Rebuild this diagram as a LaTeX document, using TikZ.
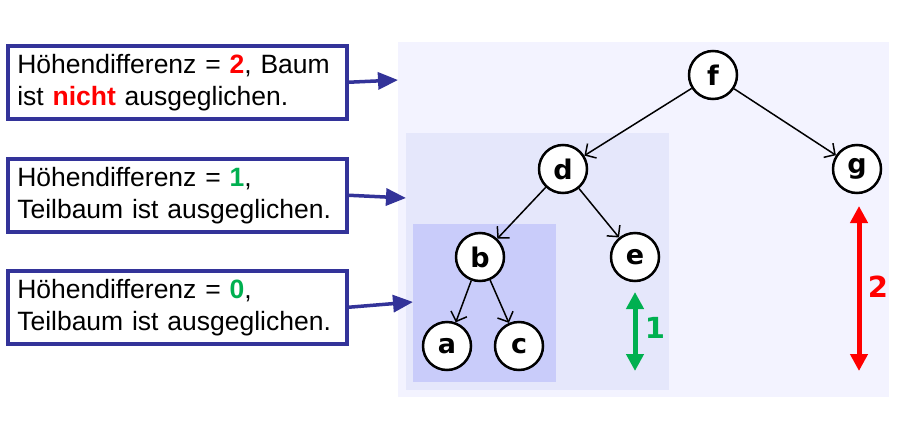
\documentclass[tikz,border=0pt]{standalone}
\usepackage{xcolor}
\usepackage{fontspec}
\setmainfont{Liberation Sans}
\newfontfamily\treefont{DejaVu Sans}
\usepackage{tikz}
\usetikzlibrary{arrows.meta}

\definecolor{boxblue}{RGB}{51,51,153}
\definecolor{hdred}{RGB}{255,0,0}
\definecolor{hdgreen}{RGB}{0,176,80}
\definecolor{panelA}{RGB}{243,243,255}
\definecolor{panelB}{RGB}{229,231,251}
\definecolor{panelC}{RGB}{201,204,250}

\tikzset{
  infobox/.style={draw=boxblue, line width=3.5pt, fill=white, anchor=north west,
    minimum width=339pt, minimum height=73pt, text width=320pt, inner xsep=9.5pt,
    align=left, font=\fontsize{26.5}{32}\selectfont},
  pointer/.style={boxblue, line width=3.5pt, -{Triangle[length=20pt,width=17pt]}},
  vertex/.style={circle, draw, line width=2.5pt, fill=white, minimum size=48pt,
    inner sep=0pt, font=\treefont\bfseries\fontsize{27}{27}\selectfont},
  edge/.style={line width=1.5pt, -{Straight Barb[length=8pt,width=17pt,line width=1.5pt]}},
  hdiff/.style={line width=5pt, {Triangle[length=17pt,width=17pt]}-{Triangle[length=17pt,width=17pt]}},
  hlabel/.style={font=\treefont\bfseries\fontsize{29}{29}\selectfont}
}

\begin{document}
\begin{tikzpicture}[x=1pt,y=-1pt]
  \useasboundingbox (0,0) rectangle (904,423);
  \fill[panelA] (398,42) rectangle (889,397);
  \fill[panelB] (406,133) rectangle (669,390);
  \fill[panelC] (413,224) rectangle (556,382);

  \node[infobox] (t1) at (6,44) {H\"ohendifferenz = \textcolor{hdred}{\textbf{2}}, Baum\\ist \textcolor{hdred}{\textbf{nicht}} ausgeglichen.};
  \node[infobox] (t2) at (6,157) {H\"ohendifferenz = \textcolor{hdgreen}{\textbf{1}},\\Teilbaum ist ausgeglichen.};
  \node[infobox] (t3) at (6,269) {H\"ohendifferenz = \textcolor{hdgreen}{\textbf{0}},\\Teilbaum ist ausgeglichen.};

  \coordinate (p1) at (398,80);
  \coordinate (p2) at (406,198);
  \coordinate (p3) at (413,302);
  \draw[pointer] (t1.east) -- (p1);
  \draw[pointer] (t2.east) -- (p2);
  \draw[pointer] (t3.east) -- (p3);

  \node[vertex] (f) at (713,75) {f};
  \node[vertex] (d) at (563,169) {d};
  \node[vertex] (g) at (857,169) {g};
  \node[vertex] (b) at (480,257) {b};
  \node[vertex] (e) at (635,257) {e};
  \node[vertex] (a) at (447,346) {a};
  \node[vertex] (c) at (519,346) {c};
  \draw[edge] (f) -- (d);
  \draw[edge] (f) -- (g);
  \draw[edge] (d) -- (b);
  \draw[edge] (d) -- (e);
  \draw[edge] (b) -- (a);
  \draw[edge] (b) -- (c);

  \coordinate (g1) at (635,292);
  \coordinate (g2) at (635,371);
  \coordinate (r1) at (859,206);
  \coordinate (r2) at (859,371);
  \draw[hdiff, hdgreen] (g1) -- (g2);
  \draw[hdiff, hdred] (r1) -- (r2);
  \node[hlabel, text=hdgreen] (l1) at (655,328) {1};
  \node[hlabel, text=hdred] (l2) at (878,287) {2};
\end{tikzpicture}
\end{document}
